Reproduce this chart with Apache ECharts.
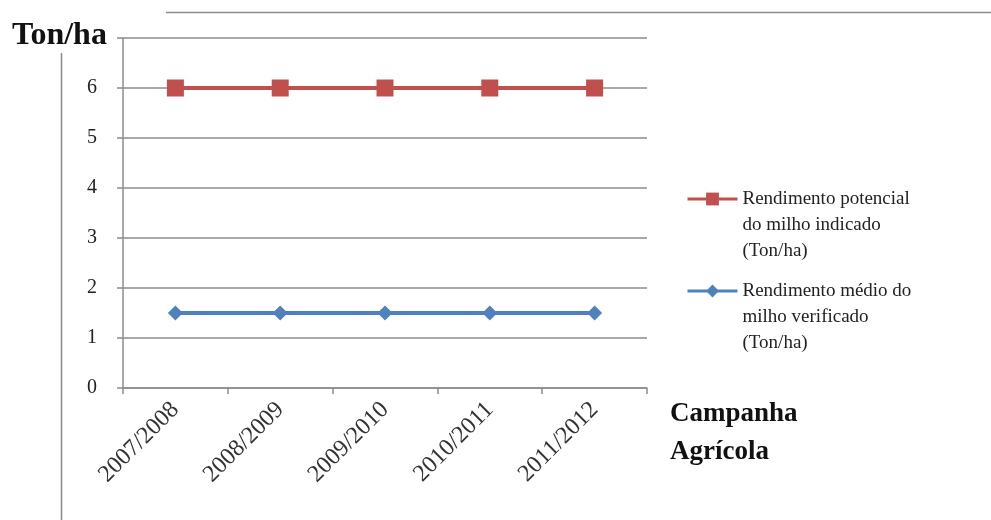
<!DOCTYPE html>
<html>
<head>
<meta charset="utf-8">
<script src="https://cdn.jsdelivr.net/npm/echarts@6/dist/echarts.min.js"></script>
<style>
  html, body { margin: 0; padding: 0; background: #fff; }
  #chart { width: 991px; height: 520px; }
</style>
</head>
<body>
<div id="chart"></div>
<script>
// Campaign years on the category axis
const campaigns = ['2007/2008', '2008/2009', '2009/2010', '2010/2011', '2011/2012'];
// Potential maize yield (t/ha)
const potentialYield = [6, 6, 6, 6, 6];
// Observed average maize yield (t/ha)
const averageYield = [1.5, 1.5, 1.5, 1.5, 1.5];
// Y axis range
const yMin = 0, yMax = 7, yStep = 1;

const seriesNames = [
  'Rendimento potencial\ndo milho indicado\n(Ton/ha)',
  'Rendimento médio do\nmilho verificado\n(Ton/ha)'
];

const serif = 'Liberation Serif';
const gridColor = '#8c8c8c';
const red = '#C0504D';
const blue = '#4F81BD';

const chart = echarts.init(document.getElementById('chart'));

// Legend text is centred on the icon; two blank lines on top put the icon beside the first line.
const legendBase = {
  orient: 'vertical',
  padding: 0,
  itemWidth: 50, itemHeight: 16, itemGap: 0,
  lineStyle: { width: 3 },
  formatter: name => '\n\n' + name,
  textStyle: { fontFamily: serif, fontSize: 19, lineHeight: 26, color: '#222' }
};

chart.setOption({
  backgroundColor: '#fff',
  animation: false,
  grid: { left: 123, top: 38, width: 524, height: 350, containLabel: false },
  legend: [
    Object.assign({ data: [seriesNames[0]], left: 686, top: 186 - 52 }, legendBase),
    Object.assign({ data: [seriesNames[1]], left: 686, top: 278 - 52 }, legendBase)
  ],
  xAxis: {
    type: 'category',
    data: campaigns,
    boundaryGap: true,
    axisLine: { lineStyle: { color: gridColor, width: 1.5 } },
    axisTick: { show: true, length: 6, alignWithLabel: false, lineStyle: { color: gridColor, width: 1.5 } },
    axisLabel: {
      rotate: 45,
      margin: 18,
      fontFamily: serif,
      fontSize: 24,
      color: '#333'
    },
    splitLine: { show: false }
  },
  yAxis: {
    type: 'value',
    min: yMin, max: yMax, interval: yStep,
    axisLine: { show: true, lineStyle: { color: gridColor, width: 1.5 } },
    axisTick: { show: true, length: 6, lineStyle: { color: gridColor, width: 1.5 } },
    axisLabel: {
      margin: 26,
      fontFamily: serif,
      fontSize: 20,
      color: '#222',
      formatter: v => (v === yMax ? '' : String(v))
    },
    splitLine: { show: true, lineStyle: { color: gridColor, width: 1.5 } }
  },
  series: [
    {
      name: seriesNames[0],
      type: 'line',
      data: potentialYield,
      symbol: 'rect',
      symbolSize: 17,
      lineStyle: { color: red, width: 4 },
      itemStyle: { color: red }
    },
    {
      name: seriesNames[1],
      type: 'line',
      data: averageYield,
      symbol: 'diamond',
      symbolSize: 15,
      lineStyle: { color: blue, width: 4 },
      itemStyle: { color: blue }
    }
  ],
  graphic: [
    {
      type: 'text', left: 12, top: 20,
      style: { text: 'Ton/ha', font: 'bold 32px "Liberation Serif"', fill: '#111' }
    },
    {
      type: 'text', left: 670, top: 395,
      style: {
        text: 'Campanha\nAgrícola',
        font: 'bold 27px "Liberation Serif"',
        lineHeight: 38,
        fill: '#111'
      }
    },
    {
      type: 'line',
      shape: { x1: 166, y1: 12.5, x2: 991, y2: 12.5 },
      style: { stroke: gridColor, lineWidth: 1.5 }
    },
    {
      type: 'line',
      shape: { x1: 61.5, y1: 53, x2: 61.5, y2: 520 },
      style: { stroke: gridColor, lineWidth: 1.5 }
    }
  ]
});
</script>
</body>
</html>
